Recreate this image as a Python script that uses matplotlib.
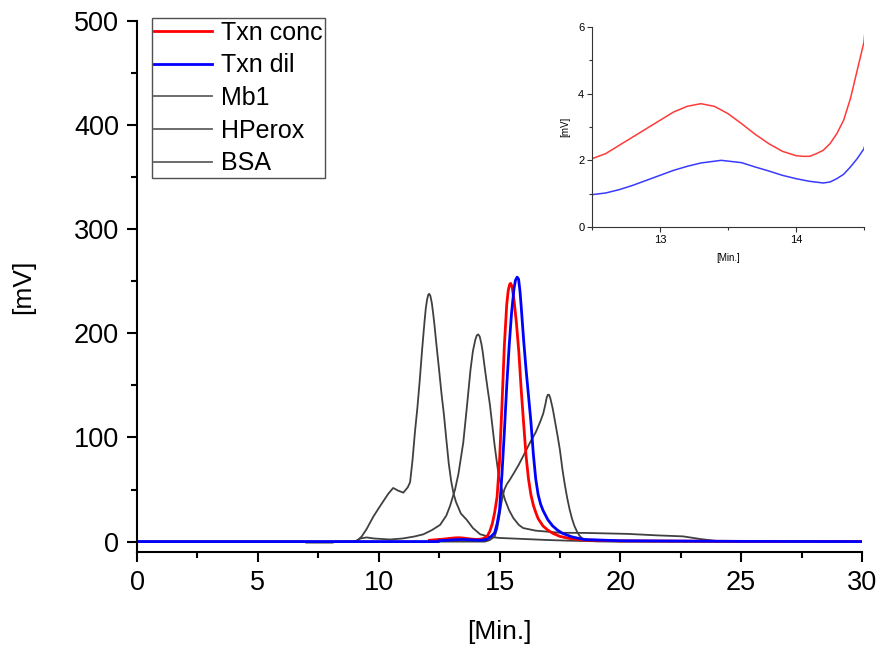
import matplotlib
matplotlib.use("Agg")
import matplotlib.pyplot as plt
from matplotlib.ticker import MultipleLocator

plt.rcParams['font.family'] = ['Liberation Sans', 'DejaVu Sans']

# Txn conc (red)
conc_x = [12.1, 12.2, 12.3, 12.4, 12.5, 12.6, 12.7, 12.8, 12.9, 13.0, 13.1, 13.2, 13.3, 13.4,
          13.5, 13.6, 13.7, 13.8, 13.9, 14.0, 14.05, 14.1, 14.15, 14.2, 14.25, 14.3, 14.35,
          14.4, 14.45, 14.5, 14.6, 14.7, 14.8, 14.9, 15.0, 15.1, 15.2, 15.3, 15.36, 15.42,
          15.46, 15.52, 15.6, 15.7, 15.8, 15.9, 16.0, 16.1, 16.2, 16.3, 16.4, 16.5, 16.6,
          16.8, 17.0, 17.2, 17.5, 17.9, 18.5, 20.0, 25.0, 30.0]
conc_y = [1.2, 1.45, 1.65, 1.85, 2.05, 2.2, 2.45, 2.7, 2.95, 3.2, 3.45, 3.62, 3.7, 3.62,
          3.4, 3.1, 2.78, 2.5, 2.27, 2.14, 2.12, 2.12, 2.2, 2.3, 2.5, 2.8, 3.2,
          3.85, 4.7, 5.55, 10, 17, 28, 43, 77, 130, 188, 228, 241, 247,
          248, 245, 232, 210, 182, 145, 113, 82, 60, 45, 35, 28, 22,
          15, 11, 8, 5, 3, 1.5, 0.7, 0.2, 0]

# Txn dil (blue)
dil_x = [0, 5, 10, 12.48, 12.5, 12.6, 12.7, 12.8, 12.9, 13.0, 13.1, 13.2, 13.3, 13.45, 13.6,
         13.7, 13.8, 13.9, 14.0, 14.1, 14.2, 14.25, 14.3, 14.35, 14.4, 14.45, 14.5, 14.6,
         14.7, 14.8, 14.9, 15.0, 15.1, 15.2, 15.3, 15.4, 15.5, 15.6, 15.66, 15.73, 15.79,
         15.85, 15.9, 16.0, 16.1, 16.2, 16.3, 16.4, 16.5, 16.6, 16.7, 16.8, 17.0, 17.2, 17.4,
         17.6, 18.0, 18.5, 20.0, 25.0, 30.0]
dil_y = [0, 0, 0, 0, 0.97, 1.02, 1.12, 1.25, 1.4, 1.55, 1.7, 1.82, 1.92, 2.0, 1.93,
         1.8, 1.68, 1.55, 1.45, 1.37, 1.32, 1.35, 1.45, 1.58, 1.8, 2.05, 2.35, 4,
         6, 8.5, 17, 30, 64, 105, 150, 188, 220, 243, 251, 254, 252,
         240, 225, 193, 165, 140, 115, 84, 60, 45, 36, 30, 21, 15, 11,
         8, 4.5, 2, 0.8, 0.2, 0]

# Mb1
mb1_x = [0, 10, 14.4, 14.6, 14.8, 14.9, 15.0, 15.1, 15.2, 15.3, 15.43, 15.6, 15.8, 16.0, 16.26,
         16.5, 16.7, 16.81, 16.9, 16.95, 17.0, 17.05, 17.1, 17.2, 17.3, 17.4, 17.5, 17.6, 17.7,
         17.8, 17.9, 18.0, 18.1, 18.2, 18.3, 18.4, 18.6, 19.0, 30.0]
mb1_y = [0, 0, 0, 1.5, 5, 12, 25, 40, 50, 55, 59.5, 66, 74, 83, 95,
         105, 116, 123, 132, 138, 141, 141, 138, 128, 115, 102, 88, 70, 55,
         42, 31, 22, 15, 10, 6, 3.5, 1.2, 0.3, 0]

# HPerox
hperox_x = [0, 6.9, 7.0, 8.1, 8.2, 9.0, 9.25, 9.5, 9.8, 10.47, 11.0, 11.5, 11.85, 12.2, 12.54,
            12.8, 12.95, 13.16, 13.3, 13.5, 13.64, 13.8, 13.9, 14.0, 14.06, 14.12, 14.18,
            14.25, 14.3, 14.4, 14.5, 14.6, 14.7, 14.8, 14.95, 15.1, 15.23, 15.4, 15.57, 15.8,
            15.98, 16.5, 17.5, 18.6, 20.3, 21.5, 22.6, 23.3, 24.1, 30.0]
hperox_y = [0, 0, -1, -1, 0, 0, 3, 4, 3, 2, 3, 5, 7, 11, 16,
            25, 34, 50, 65, 95, 127, 165, 183, 194, 198, 199, 197,
            190, 183, 165, 148, 132, 112, 92, 66, 50, 40, 30, 22.7, 16,
            13, 10.5, 8.5, 8.3, 7.4, 6, 5, 2.5, 0.2, 0]

# BSA
bsa_x = [0, 8.8, 9.1, 9.3, 9.5, 9.78, 10.0, 10.19, 10.4, 10.6, 10.8, 11.02, 11.2, 11.3, 11.4,
         11.5, 11.6, 11.7, 11.8, 11.9, 11.95, 12.0, 12.05, 12.09, 12.14, 12.2, 12.25, 12.3,
         12.4, 12.5, 12.6, 12.7, 12.8, 12.9, 13.0, 13.1, 13.2, 13.4, 13.64, 13.9, 14.2,
         14.6, 15.0, 16.0, 17.0, 18.0, 19.0, 20.0, 30.0]
bsa_y = [0, 0, 0.6, 5, 12, 24, 32, 38.7, 46, 51.5, 49, 47, 52, 57, 78,
         105, 128, 155, 185, 212, 224, 232, 237, 238, 236, 229, 220, 210,
         187, 165, 142, 122, 98, 75, 58, 46, 38, 27, 21, 13, 7,
         4.5, 3.5, 2.5, 1.5, 0.8, 0.3, 0, 0]

gray = '#404040'

fig = plt.figure(figsize=(8.78, 6.46), dpi=100)
ax = fig.add_axes([0.15604, 0.14551, 0.82574, 0.82198])

l_bsa, = ax.plot(bsa_x, bsa_y, color=gray, lw=1.3, label='BSA')
l_hp, = ax.plot(hperox_x, hperox_y, color=gray, lw=1.3, label='HPerox')
l_mb, = ax.plot(mb1_x, mb1_y, color=gray, lw=1.3, label='Mb1')
l_conc, = ax.plot(conc_x, conc_y, color='#ff0000', lw=2.0, label='Txn conc')
l_dil, = ax.plot(dil_x, dil_y, color='#0000ff', lw=2.0, label='Txn dil')

ax.set_xlim(0, 30)
ax.set_ylim(-10, 500)
ax.xaxis.set_major_locator(MultipleLocator(5))
ax.xaxis.set_minor_locator(MultipleLocator(2.5))
ax.yaxis.set_major_locator(MultipleLocator(100))
ax.yaxis.set_minor_locator(MultipleLocator(50))
for s in ['top', 'right']:
    ax.spines[s].set_visible(False)
for s in ['left', 'bottom']:
    ax.spines[s].set_linewidth(1.5)
ax.tick_params(which='major', direction='out', length=7, width=1.5, labelsize=19.5, pad=6)
ax.tick_params(which='minor', direction='out', length=4, width=1.5)
ax.set_xlabel('[Min.]', fontsize=19, labelpad=17)
ax.set_ylabel('[mV]', fontsize=19, labelpad=28)

leg = fig.legend(handles=[l_conc, l_dil, l_mb, l_hp, l_bsa], loc='upper left',
                 bbox_to_anchor=(152 / 878, 1 - 18 / 646), borderaxespad=0,
                 fontsize=18, labelspacing=0.35, handlelength=2.3, handletextpad=0.35,
                 borderpad=0.1, fancybox=False, framealpha=1)
leg.get_frame().set_edgecolor('#505050')
leg.get_frame().set_linewidth(1.0)
for h in leg.get_lines()[2:]:
    h.set_color('#606060')

# inset
ins = fig.add_axes([0.67426, 0.64861, 0.30979, 0.30960])
ins.set_facecolor('none')
ins.plot(conc_x, conc_y, color='#ff3a3a', lw=1.1)
ins.plot(dil_x, dil_y, color='#3a3aff', lw=1.1)
ins.set_xlim(12.5, 14.5)
ins.set_ylim(0, 6)
ins.xaxis.set_major_locator(MultipleLocator(1))
ins.xaxis.set_minor_locator(MultipleLocator(0.5))
ins.yaxis.set_major_locator(MultipleLocator(2))
ins.yaxis.set_minor_locator(MultipleLocator(1))
for s in ['top', 'right']:
    ins.spines[s].set_visible(False)
for s in ['left', 'bottom']:
    ins.spines[s].set_linewidth(0.8)
    ins.spines[s].set_color('#333333')
ins.tick_params(which='major', direction='out', length=3.5, width=0.8, labelsize=8, pad=2,
                color='#333333')
ins.tick_params(which='minor', direction='out', length=2, width=0.8, color='#333333')
ins.set_xlabel('[Min.]', fontsize=7, labelpad=6)
ins.set_ylabel('[mV]', fontsize=7, labelpad=6)

fig.savefig('out.png', dpi=100)
